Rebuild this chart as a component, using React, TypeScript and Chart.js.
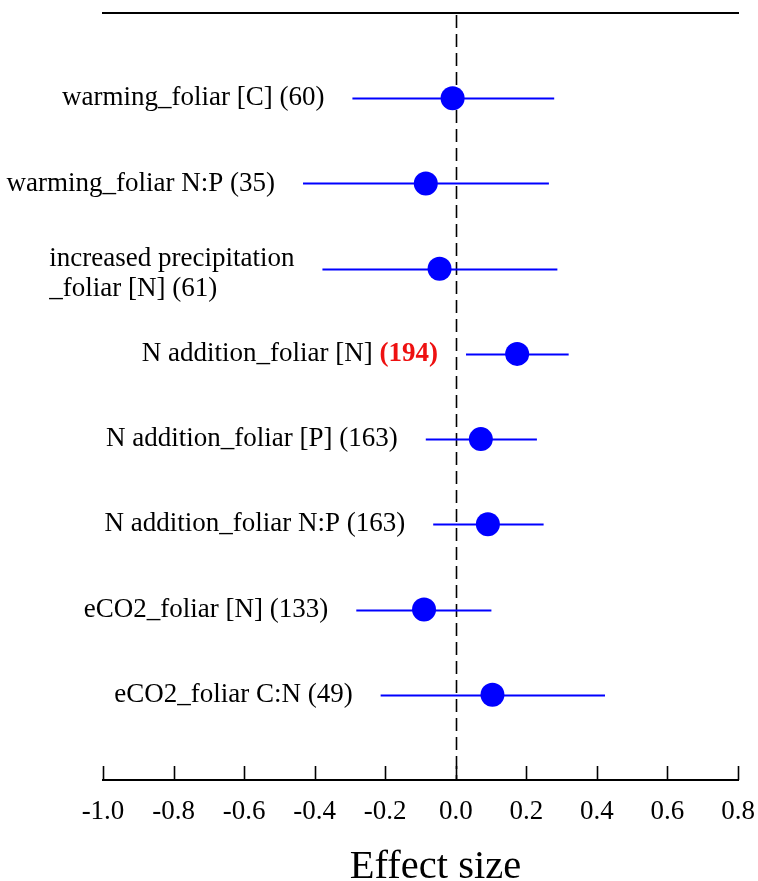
import React, { useEffect, useRef } from "react";
import { Chart, registerables } from "chart.js";

Chart.register(...registerables);

// ---- data ----
const categories: string[] = [
  "warming_foliar [C]",
  "warming_foliar N:P",
  "increased precipitation\n_foliar [N]",
  "N addition_foliar [N]",
  "N addition_foliar [P]",
  "N addition_foliar N:P",
  "eCO2_foliar [N]",
  "eCO2_foliar C:N",
];
const sampleSizes: number[] = [60, 35, 61, 194, 163, 163, 133, 49];
const effects: number[] = [-0.009, -0.085, -0.046, 0.174, 0.071, 0.091, -0.09, 0.104];
const lowerCI: number[] = [-0.293, -0.433, -0.378, 0.029, -0.085, -0.064, -0.282, -0.213];
const upperCI: number[] = [0.279, 0.264, 0.288, 0.32, 0.23, 0.249, 0.101, 0.423];
const highlightedRow = 3;
const tickLabels: string[] = ["-1.0", "-0.8", "-0.6", "-0.4", "-0.2", "0.0", "0.2", "0.4", "0.6", "0.8"];
const xTitle = "Effect size";

const FONT = "'Liberation Serif', 'Times New Roman', serif";
const BLUE = "#0000ff";

const forestPlugin = {
  id: "forest",
  beforeDatasetsDraw(chart: any) {
    const { ctx, chartArea, scales } = chart;
    const xs = scales.x;
    const ys = scales.y;
    ctx.save();
    // top frame line
    ctx.strokeStyle = "#000";
    ctx.lineWidth = 2;
    ctx.beginPath();
    ctx.moveTo(chartArea.left - 1, chartArea.top);
    ctx.lineTo(chartArea.right + 1, chartArea.top);
    ctx.stroke();
    // dashed zero line
    const x0 = Math.round(xs.getPixelForValue(0)) + 0.5;
    ctx.lineWidth = 1.6;
    ctx.setLineDash([13, 6]);
    ctx.beginPath();
    ctx.moveTo(x0, chartArea.top + 2);
    ctx.lineTo(x0, chartArea.bottom);
    ctx.stroke();
    ctx.setLineDash([]);
    // inward ticks
    ctx.lineWidth = 1.6;
    xs.ticks.forEach((_t: any, i: number) => {
      const px = Math.round(xs.getPixelForTick(i)) + 0.5;
      ctx.beginPath();
      ctx.moveTo(px, chartArea.bottom);
      ctx.lineTo(px, chartArea.bottom - 14);
      ctx.stroke();
    });
    // error bars
    ctx.strokeStyle = BLUE;
    ctx.lineWidth = 2;
    categories.forEach((_c, i) => {
      const y = Math.round(ys.getPixelForValue(i + 1)) + 0.5;
      ctx.beginPath();
      ctx.moveTo(xs.getPixelForValue(lowerCI[i]), y);
      ctx.lineTo(xs.getPixelForValue(upperCI[i]), y);
      ctx.stroke();
    });
    ctx.restore();
  },
  afterDatasetsDraw(chart: any) {
    const { ctx, scales, chartArea } = chart;
    const xs = scales.x;
    const ys = scales.y;
    const normal = `27px ${FONT}`;
    const bold = `bold 27px ${FONT}`;
    ctx.save();
    ctx.textBaseline = "middle";
    categories.forEach((cat, i) => {
      const y = ys.getPixelForValue(i + 1);
      const right = xs.getPixelForValue(lowerCI[i]) - 28;
      const lines = cat.split("\n");
      const n = `(${sampleSizes[i]})`;
      if (lines.length > 1) {
        ctx.font = normal;
        const full = lines.map((l, k) => (k === lines.length - 1 ? `${l} ${n}` : l));
        const w = Math.max(...full.map((l) => ctx.measureText(l).width));
        ctx.textAlign = "left";
        ctx.fillStyle = "#000";
        full.forEach((l, k) => ctx.fillText(l, right - w, y - 10 + k * 30));
      } else if (i === highlightedRow) {
        ctx.font = bold;
        const wn = ctx.measureText(n).width;
        ctx.textAlign = "right";
        ctx.fillStyle = "#ee1111";
        ctx.fillText(n, right, y);
        ctx.font = normal;
        ctx.fillStyle = "#000";
        ctx.fillText(`${cat} `, right - wn, y);
      } else {
        ctx.font = normal;
        ctx.textAlign = "right";
        ctx.fillStyle = "#000";
        ctx.fillText(`${cat} ${n}`, right, y);
      }
    });
    // axis title
    ctx.font = `40.5px ${FONT}`;
    ctx.textAlign = "center";
    ctx.textBaseline = "alphabetic";
    ctx.fillStyle = "#000";
    ctx.fillText(xTitle, (chartArea.left + chartArea.right) / 2 + 15, chart.height - 3);
    ctx.restore();
  },
};

export default function App() {
  const ref = useRef<HTMLCanvasElement>(null);
  useEffect(() => {
    document.body.style.margin = "0";
    const canvas = ref.current!;
    const chart = new Chart(canvas, {
      type: "scatter",
      data: {
        datasets: [
          {
            data: effects.map((e, i) => ({ x: e, y: i + 1 })),
            backgroundColor: BLUE,
            borderWidth: 0,
            pointRadius: 12,
            pointHoverRadius: 12,
          },
        ],
      },
      options: {
        responsive: false,
        animation: false,
        devicePixelRatio: 1,
        layout: { padding: { top: 13, left: 103, right: 20, bottom: 0 } },
        plugins: { legend: { display: false }, tooltip: { enabled: false } },
        scales: {
          x: {
            type: "linear",
            min: -1,
            max: 0.8,
            afterFit: (scale: any) => {
              scale.height = 101;
              scale.paddingLeft = 0;
              scale.paddingRight = 0;
            },
            grid: { display: false, drawTicks: false },
            border: { display: true, color: "#000", width: 2 },
            ticks: {
              stepSize: 0.2,
              padding: 16,
              color: "#000",
              font: { family: FONT, size: 27 },
              callback: (_v: any, idx: number) => tickLabels[idx],
            },
            title: { display: false },
          },
          y: { type: "linear", min: 0, max: 9, reverse: true, display: false },
        },
      },
      plugins: [forestPlugin],
    } as any);
    return () => chart.destroy();
  }, []);
  return <canvas ref={ref} width={758} height={881} style={{ display: "block", width: 758, height: 881 }} />;
}
